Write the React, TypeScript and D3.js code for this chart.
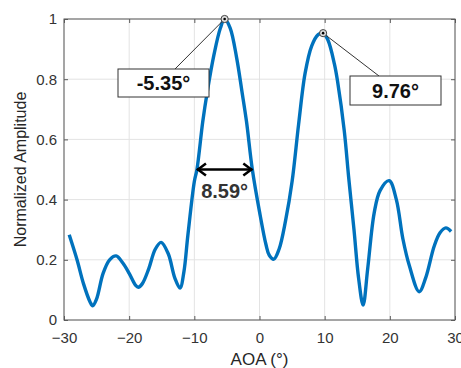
import React, { useRef, useEffect } from 'react';
import * as d3 from 'd3';

// angle of arrival (deg) and normalized amplitude
const aoa = [
  -29.2, -28, -27, -26, -25.6, -25, -24, -23, -22, -21, -20, -19, -18.6, -18, -17, -16, -15.1, -14, -13, -12.2,
  -11.6, -11, -10, -9.6, -8.7, -8, -7, -6, -5.35, -4.5, -3.5, -2.7, -2, -1.1, 0, 1, 1.5, 2.2, 3, 4, 5, 6, 7, 8, 9,
  9.76, 10.5, 11.5, 12, 13, 13.7, 14.5, 15.2, 15.9, 16.6, 17.6, 18.5, 19.9, 21, 22, 23, 24.5, 25.5, 26.8, 27.7,
  28.6, 29.4,
];
const amplitude = [
  0.283, 0.2, 0.12, 0.06, 0.047, 0.07, 0.155, 0.2, 0.213, 0.19, 0.155, 0.115, 0.109, 0.12, 0.17, 0.235, 0.258,
  0.22, 0.14, 0.106, 0.16, 0.28, 0.46, 0.5, 0.66, 0.76, 0.88, 0.97, 1.0, 0.97, 0.87, 0.76, 0.66, 0.5, 0.36, 0.25,
  0.215, 0.202, 0.235, 0.33, 0.46, 0.65, 0.82, 0.91, 0.948, 0.953, 0.93, 0.85, 0.79, 0.63, 0.47, 0.3, 0.14, 0.05,
  0.17, 0.356, 0.43, 0.463, 0.4, 0.27, 0.18, 0.094, 0.14, 0.245, 0.29, 0.306, 0.294,
];

const xTicks = [-30, -20, -10, 0, 10, 20, 30];
const yTicks = [0, 0.2, 0.4, 0.6, 0.8, 1];

// peak annotations: [aoa, amplitude, label]
const peaks: [number, number, string][] = [
  [-5.35, 1.0, '-5.35°'],
  [9.76, 0.953, '9.76°'],
];
const beamwidth = { from: -9.6, to: -1.1, level: 0.5, label: '8.59°' };

const W = 461;
const H = 368;
const FONT = 'Arial, "Liberation Sans", Helvetica, sans-serif';

const App: React.FC = () => {
  const svgRef = useRef<SVGSVGElement | null>(null);

  useEffect(() => {
    const margin = { top: 19, right: 6, bottom: 48, left: 64 };
    const innerWidth = W - margin.left - margin.right;
    const innerHeight = H - margin.top - margin.bottom;

    d3.select(svgRef.current).selectAll('*').remove();
    const svg = d3.select(svgRef.current).attr('width', W).attr('height', H);

    const x = d3.scaleLinear().domain([-30, 30]).range([0, innerWidth]);
    const y = d3.scaleLinear().domain([0, 1]).range([innerHeight, 0]);

    const g = svg.append('g').attr('transform', `translate(${margin.left},${margin.top})`);

    // grid
    g.selectAll('.vgrid')
      .data(xTicks)
      .enter()
      .append('line')
      .attr('x1', d => x(d))
      .attr('x2', d => x(d))
      .attr('y1', 0)
      .attr('y2', innerHeight)
      .attr('stroke', '#e3e3e3')
      .attr('stroke-width', 1);
    g.selectAll('.hgrid')
      .data(yTicks)
      .enter()
      .append('line')
      .attr('x1', 0)
      .attr('x2', innerWidth)
      .attr('y1', d => y(d))
      .attr('y2', d => y(d))
      .attr('stroke', '#e3e3e3')
      .attr('stroke-width', 1);

    // axes, ticks pointing inward
    const axisColor = '#5a5a5a';
    const styleAxis = (sel: d3.Selection<SVGGElement, unknown, null, undefined>) => {
      sel.select('.domain').remove();
      sel.selectAll('line').attr('stroke', axisColor);
      sel.selectAll('text').attr('fill', '#333').style('font-family', FONT).style('font-size', '15px');
    };
    g.append('g')
      .attr('transform', `translate(0,${innerHeight})`)
      .call(d3.axisBottom(x).tickValues(xTicks).tickSizeInner(-4).tickSizeOuter(0).tickPadding(12).tickFormat(d3.format('d')))
      .call(styleAxis);
    g.append('g')
      .call(d3.axisLeft(y).tickValues(yTicks).tickSizeInner(-4).tickSizeOuter(0).tickPadding(7).tickFormat(d => String(+d)))
      .call(styleAxis);
    g.append('g')
      .call(d3.axisTop(x).tickValues(xTicks).tickSizeInner(-4).tickSizeOuter(0).tickFormat(() => ''))
      .call(styleAxis);
    g.append('g')
      .attr('transform', `translate(${innerWidth},0)`)
      .call(d3.axisRight(y).tickValues(yTicks).tickSizeInner(-4).tickSizeOuter(0).tickFormat(() => ''))
      .call(styleAxis);

    g.append('rect')
      .attr('width', innerWidth)
      .attr('height', innerHeight)
      .attr('fill', 'none')
      .attr('stroke', axisColor)
      .attr('stroke-width', 1);

    // curve
    const pts: [number, number][] = aoa.map((a, i) => [a, amplitude[i]]);
    const line = d3
      .line<[number, number]>()
      .x(d => x(d[0]))
      .y(d => y(d[1]))
      .curve(d3.curveCatmullRom.alpha(0.5));
    g.append('path')
      .datum(pts)
      .attr('d', line)
      .attr('fill', 'none')
      .attr('stroke', '#0072BD')
      .attr('stroke-width', 3.4)
      .attr('stroke-linejoin', 'round');

    // peak markers and labels
    const boxes = [
      { x0: 118 - margin.left, y0: 69 - margin.top, w: 91, h: 28, lx: 175 - margin.left },
      { x0: 350 - margin.left, y0: 76 - margin.top, w: 91, h: 29, lx: 379 - margin.left },
    ];
    peaks.forEach(([a, v, label], i) => {
      const b = boxes[i];
      g.append('line')
        .attr('x1', b.lx)
        .attr('y1', b.y0)
        .attr('x2', x(a))
        .attr('y2', y(v))
        .attr('stroke', '#333')
        .attr('stroke-width', 1);
      g.append('rect')
        .attr('x', b.x0)
        .attr('y', b.y0)
        .attr('width', b.w)
        .attr('height', b.h)
        .attr('fill', '#fff')
        .attr('stroke', '#333')
        .attr('stroke-width', 1);
      g.append('text')
        .attr('x', b.x0 + b.w / 2)
        .attr('y', b.y0 + b.h / 2)
        .attr('dy', '0.35em')
        .attr('text-anchor', 'middle')
        .style('font-family', FONT)
        .style('font-size', '20px')
        .style('font-weight', 'bold')
        .attr('fill', '#111')
        .text(label);
      g.append('circle')
        .attr('cx', x(a))
        .attr('cy', y(v))
        .attr('r', 3.6)
        .attr('fill', '#ddd')
        .attr('stroke', '#444')
        .attr('stroke-width', 1);
      g.append('circle').attr('cx', x(a)).attr('cy', y(v)).attr('r', 1.3).attr('fill', '#000');
    });

    // beamwidth arrow
    const ay = y(beamwidth.level);
    const ax1 = x(beamwidth.from);
    const ax2 = x(beamwidth.to);
    g.append('line')
      .attr('x1', ax1)
      .attr('x2', ax2)
      .attr('y1', ay)
      .attr('y2', ay)
      .attr('stroke', '#000')
      .attr('stroke-width', 2.5);
    g.append('path')
      .attr('d', `M${ax1 + 9},${ay - 6}L${ax1 + 1},${ay}L${ax1 + 9},${ay + 6}M${ax2 - 9},${ay - 6}L${ax2 - 1},${ay}L${ax2 - 9},${ay + 6}`)
      .attr('fill', 'none')
      .attr('stroke', '#000')
      .attr('stroke-width', 2.5);
    g.append('text')
      .attr('x', (ax1 + ax2) / 2)
      .attr('y', ay + 28)
      .attr('text-anchor', 'middle')
      .style('font-family', FONT)
      .style('font-size', '20px')
      .style('font-weight', 'bold')
      .attr('fill', '#333')
      .text(beamwidth.label);

    // axis labels
    svg.append('text')
      .attr('x', margin.left + innerWidth / 2)
      .attr('y', 365)
      .attr('text-anchor', 'middle')
      .style('font-family', FONT)
      .style('font-size', '17px')
      .attr('fill', '#262626')
      .text('AOA (°)');
    svg.append('text')
      .attr('transform', `translate(26,${margin.top + innerHeight / 2}) rotate(-90)`)
      .attr('text-anchor', 'middle')
      .style('font-family', FONT)
      .style('font-size', '16px')
      .attr('fill', '#262626')
      .text('Normalized Amplitude');
  }, []);

  return <svg ref={svgRef} style={{ position: 'absolute', left: 0, top: 0, background: '#fff' }}></svg>;
};

export default App;
